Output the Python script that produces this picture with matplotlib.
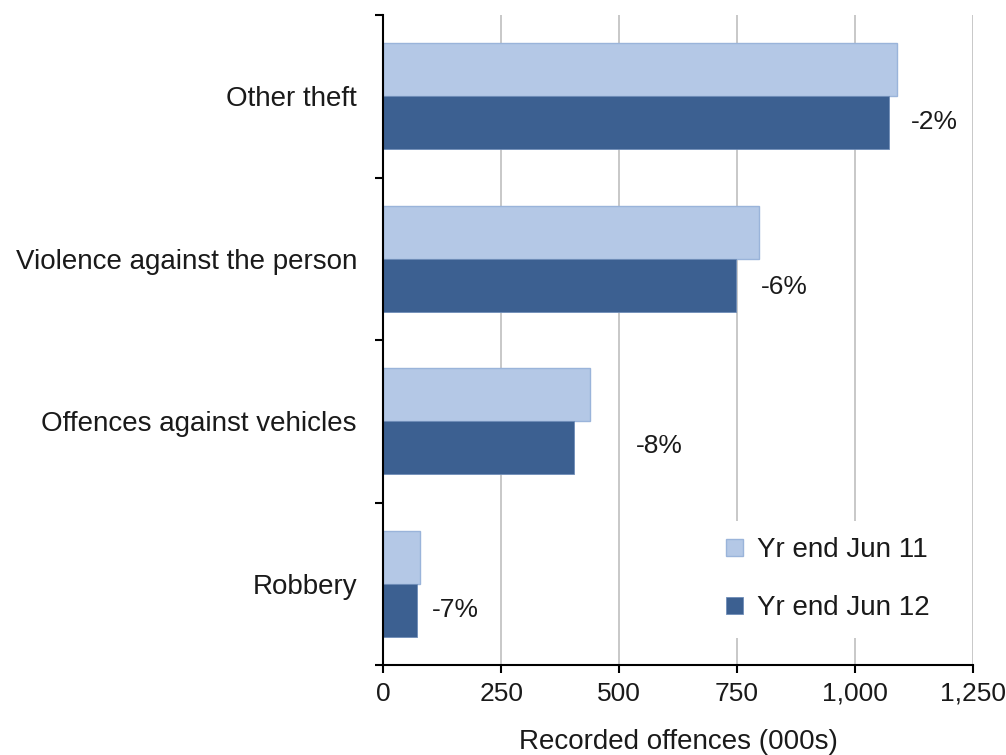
import numpy as np
import matplotlib.pyplot as plt
from matplotlib.ticker import FuncFormatter

plt.rcParams['font.family'] = ['Liberation Sans', 'DejaVu Sans']

# Recorded offences (000s), listed top to bottom
categories = ['Other theft', 'Violence against the person',
              'Offences against vehicles', 'Robbery']
yr_jun11 = [1090, 797, 439, 78]
yr_jun12 = [1072, 748, 405, 72.5]
series_names = ['Yr end Jun 11', 'Yr end Jun 12']

light = '#B4C8E6'
dark = '#3C6091'
text_col = '#1a1a1a'
fs = 20

fig = plt.figure(figsize=(10.06, 7.55), dpi=100)
ax = fig.add_axes([0.381, 0.119, 0.586, 0.861])

n = len(categories)
ypos = np.arange(n)[::-1]
h = 0.326

ax.barh(ypos + h / 2, yr_jun11, height=h, color=light, edgecolor='#9AB4DA',
        linewidth=1, label=series_names[0], zorder=3)
ax.barh(ypos - h / 2, yr_jun12, height=h, color=dark, edgecolor='#6F8DB8',
        linewidth=0.6, label=series_names[1], zorder=3)

# percentage change labels beside the newer bar
label_offsets = [(16, 0.5), (18, -1), (44.5, 1.5), (10.5, 0.5)]
for y, a, b, off in zip(ypos, yr_jun11, yr_jun12, label_offsets):
    pct = round((b - a) / a * 100)
    ax.annotate(f'{pct}%', xy=(b, y - h / 2), xytext=off,
                textcoords='offset points', ha='left', va='center',
                fontsize=19, color=text_col)

ax.set_xlim(0, 1250)
ax.set_ylim(-0.5, n - 0.5)
ax.set_xticks(np.arange(0, 1251, 250))
ax.xaxis.set_major_formatter(FuncFormatter(lambda v, p: f'{int(v):,}'))
ax.grid(axis='x', color='#BFBFBF', linewidth=1.2, zorder=0)

ax.set_yticks(ypos)
ax.set_yticklabels(categories)
ax.set_yticks(np.arange(-0.5, n, 1.0), minor=True)
ax.tick_params(axis='y', which='major', length=0, pad=19,
               labelsize=fs, labelcolor=text_col)
ax.tick_params(axis='y', which='minor', length=6, width=1.5, color='black')
ax.tick_params(axis='x', length=6, width=1.5, pad=6,
               labelsize=19, labelcolor=text_col)

for s in ['top', 'right']:
    ax.spines[s].set_visible(False)
for s in ['left', 'bottom']:
    ax.spines[s].set_linewidth(1.5)
    ax.spines[s].set_zorder(4)

ax.set_xlabel('Recorded offences (000s)', fontsize=fs, color=text_col,
              labelpad=17)

leg = ax.legend(loc='center left', bbox_to_anchor=(0.53, 0.132),
                fontsize=fs, frameon=True, facecolor='white',
                edgecolor='none', framealpha=1, handlelength=0.6,
                handleheight=0.6, handletextpad=0.5, labelspacing=1.15,
                borderpad=0.6)
for t in leg.get_texts():
    t.set_color(text_col)

fig.savefig('out.png', dpi=100)
